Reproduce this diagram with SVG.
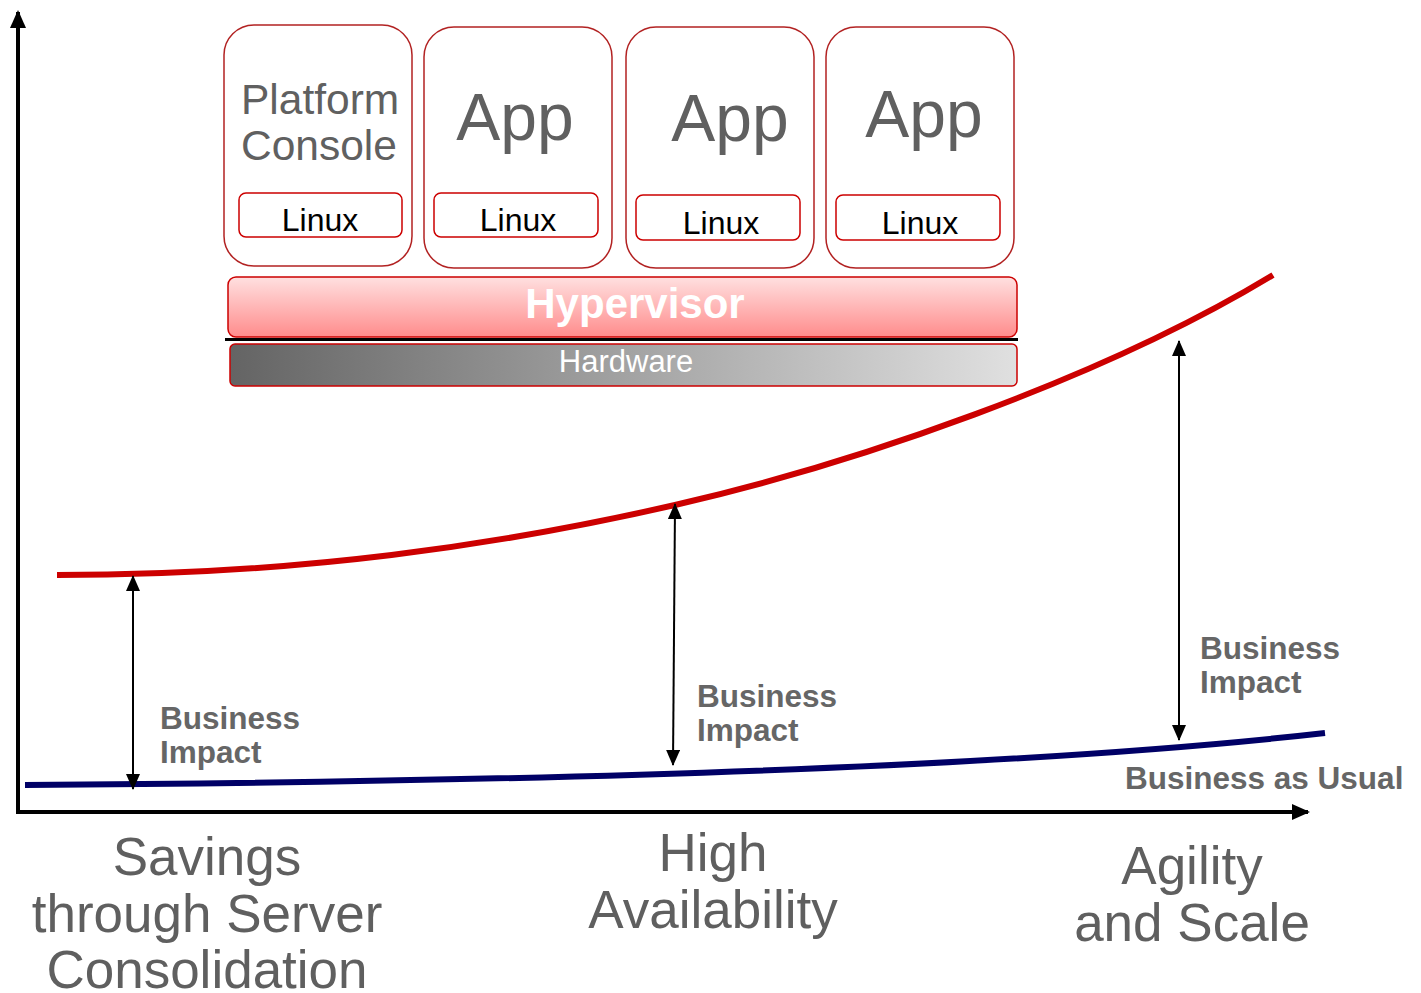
<svg xmlns="http://www.w3.org/2000/svg" width="1421" height="993" viewBox="0 0 1421 993">
<defs>
<linearGradient id="hyp" x1="0" y1="0" x2="0" y2="1"><stop offset="0" stop-color="#ffe0e0"/><stop offset="1" stop-color="#ff8c8c"/></linearGradient>
<linearGradient id="hw" x1="0" y1="0" x2="1" y2="0"><stop offset="0" stop-color="#646464"/><stop offset="1" stop-color="#e0e0e0"/></linearGradient>
<marker id="axh" markerWidth="18" markerHeight="16" refX="16" refY="8" orient="auto" markerUnits="userSpaceOnUse"><path d="M0,0 L18,8 L0,16 z" fill="#000"/></marker>
<marker id="ih" markerWidth="16" markerHeight="14" refX="15" refY="7" orient="auto-start-reverse" markerUnits="userSpaceOnUse"><path d="M0,0 L16,7 L0,14 z" fill="#000"/></marker>
</defs>
<style>
.vm{fill:#fff;stroke:#b22222;stroke-width:1.5}
.lx{fill:#fff;stroke:#cc0000;stroke-width:1.5}
.lt{font-family:"Liberation Sans",Arial,sans-serif;font-size:32px;fill:#000;text-anchor:middle}
.app{font-family:"Liberation Sans",Arial,sans-serif;font-size:66px;fill:#606060}
.pc{font-family:"Liberation Sans",Arial,sans-serif;font-size:42.5px;fill:#606060}
.bi{font-family:"Liberation Sans",Arial,sans-serif;font-size:31.5px;font-weight:bold;fill:#666}
.big{font-family:"Liberation Sans",Arial,sans-serif;font-size:53px;fill:#5f5f5f;text-anchor:middle}
</style>
<rect width="1421" height="993" fill="#fff"/>
<g id="axes">
<line x1="18" y1="812" x2="18" y2="12" stroke="#000" stroke-width="4" marker-end="url(#axh)"/>
<line x1="16" y1="812" x2="1308" y2="812" stroke="#000" stroke-width="4" marker-end="url(#axh)"/>
</g>
<g id="vm1">
<rect class="vm" x="224" y="25" width="188" height="241" rx="30"/>
<text class="pc" x="241" y="114">Platform</text>
<text class="pc" x="241" y="160">Console</text>
<rect class="lx" x="239" y="193" width="163" height="44" rx="7"/>
<text class="lt" x="320" y="231">Linux</text>
</g>
<g id="vm2">
<rect class="vm" x="424" y="27" width="188" height="241" rx="30"/>
<text class="app" x="515" y="140" text-anchor="middle">App</text>
<rect class="lx" x="434" y="193" width="164" height="44" rx="7"/>
<text class="lt" x="518" y="231">Linux</text>
</g>
<g id="vm3">
<rect class="vm" x="626" y="27" width="188" height="241" rx="30"/>
<text class="app" x="730" y="141" text-anchor="middle">App</text>
<rect class="lx" x="636" y="195" width="164" height="45" rx="7"/>
<text class="lt" x="721" y="234">Linux</text>
</g>
<g id="vm4">
<rect class="vm" x="826" y="27" width="188" height="241" rx="30"/>
<text class="app" x="924" y="137" text-anchor="middle">App</text>
<rect class="lx" x="836" y="195" width="164" height="45" rx="7"/>
<text class="lt" x="920" y="234">Linux</text>
</g>
<g id="hypervisor">
<rect x="228" y="277" width="789" height="60" rx="8" fill="url(#hyp)" stroke="#cc0000" stroke-width="1.5"/>
<text x="635" y="318" font-family="'Liberation Sans',Arial,sans-serif" font-size="42" font-weight="bold" fill="#fff" text-anchor="middle">Hypervisor</text>
<line x1="225" y1="339.5" x2="1018" y2="339.5" stroke="#000" stroke-width="3"/>
</g>
<g id="hardware">
<rect x="230" y="344" width="787" height="42" rx="5" fill="url(#hw)" stroke="#cc0000" stroke-width="1.5"/>
<text x="626" y="372" font-family="'Liberation Sans',Arial,sans-serif" font-size="31" fill="#fff" text-anchor="middle">Hardware</text>
</g>
<g id="curves">
<path d="M57,575 C300,575 500,545 675,505 S1100,380 1273,275" fill="none" stroke="#cc0000" stroke-width="6"/>
<path d="M25,785 C500,782 1000,770 1325,733" fill="none" stroke="#000066" stroke-width="6"/>
</g>
<g id="connectors">
<line x1="133" y1="576" x2="133" y2="789" stroke="#000" stroke-width="2" marker-start="url(#ih)" marker-end="url(#ih)"/>
<line x1="675" y1="504" x2="673" y2="765" stroke="#000" stroke-width="2" marker-start="url(#ih)" marker-end="url(#ih)"/>
<line x1="1179" y1="341" x2="1179" y2="740" stroke="#000" stroke-width="2" marker-start="url(#ih)" marker-end="url(#ih)"/>
</g>
<g id="labels">
<text class="bi" x="160" y="729">Business</text>
<text class="bi" x="160" y="763">Impact</text>
<text class="bi" x="697" y="707">Business</text>
<text class="bi" x="697" y="741">Impact</text>
<text class="bi" x="1200" y="659">Business</text>
<text class="bi" x="1200" y="693">Impact</text>
<text class="bi" x="1125" y="789">Business as Usual</text>
<text class="big" x="207" y="875">Savings</text>
<text class="big" x="207" y="932">through Server</text>
<text class="big" x="207" y="988">Consolidation</text>
<text class="big" x="713" y="871">High</text>
<text class="big" x="713" y="928">Availability</text>
<text class="big" x="1192" y="884">Agility</text>
<text class="big" x="1192" y="941">and Scale</text>
</g>
</svg>
